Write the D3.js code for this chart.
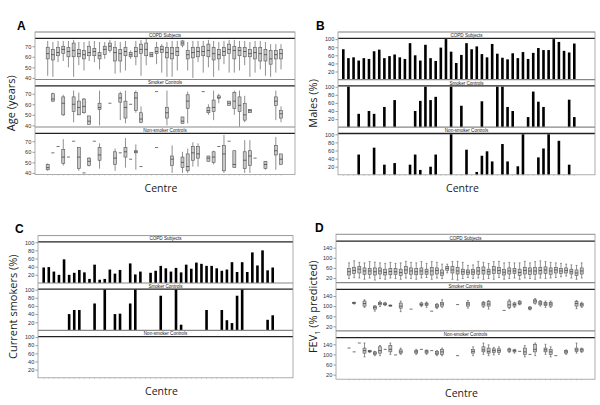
<!DOCTYPE html>
<html><head><meta charset="utf-8">
<script src="https://cdn.jsdelivr.net/npm/d3@7/dist/d3.min.js"></script>
<style>body{margin:0;background:#fff}svg{display:block}</style>
</head><body><svg id="c" width="600" height="405"></svg>
<script>
const centres = d3.range(1, 47);
const groupTitles = ["COPD Subjects", "Smoker Controls", "Non-smoker Controls"];

// A: Age (years) box plots [centre, lo, q1, median, q3, hi]
const ageCOPD = [
[1,42,58,63,69,75],[2,41,57,62,67,74],[3,55,61,64,69,75],[4,56,63,67,70,75],[5,50,60,65,69,75],
[6,41,60,66,73,76],[7,52,60,63,67,74],[8,47,58,62,66,74],[9,56,61,64,70,75],[10,55,61,65,68,75],
[11,48,58,61,64,74],[12,58,62,67,70,74],[13,64,66,70,73,76],[14,44,56,64,69,75],[15,45,56,63,67,74],
[16,47,61,65,69,75],[17,58,60,62,64,66],[18,52,60,65,69,75],[19,42,63,67,72,76],[20,52,61,67,73,77],
[21,60,60,62,64,64],[22,53,63,65,69,74],[23,45,64,67,70,72],[24,41,59,64,69,74],[25,41,58,63,69,75],
[26,47,61,65,69,75],[27,69,71,73,75,76],[28,47,58,62,66,74],[29,40,59,64,69,75],[30,55,60,65,69,75],
[31,45,61,65,70,75],[32,50,60,66,72,76],[33,41,57,63,69,75],[34,47,58,62,67,74],[35,53,61,65,69,75],
[36,45,63,67,72,76],[37,45,58,66,70,76],[38,47,61,66,69,75],[39,52,60,65,69,75],[40,41,60,63,67,74],
[41,45,58,64,69,75],[42,48,56,63,69,75],[43,42,56,62,67,74],[44,41,53,58,66,72],[45,45,58,62,66,72],
[46,48,58,63,67,72]];
const ageSmoker = [
[2,62,63,65,70,71],[4,49,50,61,67,69],[6,43,53,60,67,73],[7,50,50,57,63,71],[8,51,52,58,65,66],
[9,41,41,44,49,49],[11,40,55,57,61,73],[13,61,61,61,61,61],[15,45,62,66,70,72],[16,42,47,57,63,73],
[17,60,60,60,60,60],[18,52,54,66,71,73],[19,42,43,46,52,58],[22,72,72,72,72,72],[24,40,47,52,57,73],
[27,42,42,44,48,48],[28,42,56,63,69,72],[31,72,72,72,72,72],[32,50,52,54,57,60],[33,45,53,57,64,73],
[34,61,66,66,68,70],[36,59,59,61,63,63],[37,50,56,63,71,73],[38,39,53,59,67,73],[39,43,45,50,61,68],
[40,52,52,54,55,55],[45,45,59,63,67,73],[46,43,47,51,54,58]];
const ageNonSmoker = [
[1,42,43,45,48,49],[2,59,59,59,59,59],[3,65,65,65,65,65],[4,47,49,55,62,72],[5,55,55,55,55,55],
[6,70,70,70,70,70],[7,42,44,55,64,64],[8,40,40,40,40,40],[9,46,47,51,54,55],[10,70,70,70,70,70],
[11,44,52,57,64,68],[14,42,48,54,60,63],[15,59,59,59,59,59],[16,45,55,60,64,73],[17,53,53,53,53,53],
[18,43,59,60,61,67],[19,46,46,46,46,46],[22,64,64,64,64,64],[25,40,47,53,56,66],[27,40,45,50,55,60],
[28,40,42,46,58,63],[29,46,52,59,65,69],[30,46,54,58,65,68],[32,51,51,54,56,56],[33,48,50,55,60,61],
[34,65,65,65,65,65],[35,40,42,58,66,76],[36,70,70,70,70,70],[37,45,45,48,61,61],[39,40,44,52,60,71],
[40,40,47,56,61,71],[41,54,54,54,54,54],[43,43,44,48,51,51],[45,43,57,61,66,74],[46,48,48,53,58,58]];

// B: Males (%)
const malesCOPD = [75,53,55,47,53,51,70,74,53,58,62,55,51,90,60,47,86,53,46,79,100,69,41,61,90,75,82,63,55,88,64,54,50,65,53,68,51,66,78,73,73,100,93,71,67,89];
const malesSmoker = [[2,100],[4,33],[6,40],[7,33],[9,50],[11,67],[15,40],[16,65],[17,100],[18,67],[19,75],[22,100],[24,53],[28,64],[31,100],[32,100],[33,50],[34,40],[37,25],[38,88],[39,63],[40,50],[45,68],[46,25]];
const malesNonSmoker = [[4,50],[7,67],[9,25],[11,29],[14,25],[15,50],[16,12],[18,20],[19,50],[22,100],[25,62],[27,7],[28,47],[29,58],[30,33],[32,76],[33,33],[35,21],[36,100],[39,43],[40,65],[41,100],[43,84],[45,25]];

// C: Current smokers (%) (null = no data)
const smokCOPD = [38,39,28,20,58,20,25,32,26,10,45,8,10,33,23,32,null,48,21,28,null,25,30,42,36,28,37,26,45,35,50,47,42,42,36,30,33,51,27,51,27,75,43,80,31,38];
const smokSmoker = [[6,40],[7,50],[8,50],[11,66],[13,100],[15,40],[16,41],[18,66],[19,100],[24,85],[27,100],[28,14],[33,50],[36,50],[37,25],[38,18],[39,85],[40,100],[45,26],[46,37]];
const smokNonSmoker = [];

// D: FEV1 (% predicted) box plots
const fevCOPD = [
[1,18,32,45,58,80],[2,22,38,50,62,88],[3,20,40,55,65,82],[4,15,35,48,60,80],[5,20,35,48,58,85],
[6,12,32,45,60,83],[7,18,36,48,60,80],[8,15,32,42,55,78],[9,20,33,46,58,82],[10,18,35,45,57,78],
[11,15,30,42,55,80],[12,20,38,52,65,86],[13,18,35,48,60,82],[14,15,33,45,57,80],[15,20,35,48,60,85],
[16,22,35,45,55,78],[17,15,32,48,62,85],[18,20,36,50,60,82],[19,18,30,40,52,75],[20,40,50,58,66,75],
[21,15,40,52,65,85],[22,12,36,48,62,86],[23,18,35,45,55,82],[24,22,35,43,52,70],[25,18,34,44,53,72],
[26,20,35,48,62,86],[27,15,36,50,64,82],[28,18,34,45,55,78],[29,15,38,52,65,85],[30,22,38,50,62,86],
[31,15,32,43,54,80],[32,18,36,48,60,82],[33,20,38,48,58,80],[34,15,30,42,55,80],[35,20,36,50,62,86],
[36,18,34,48,60,80],[37,15,35,48,62,85],[38,20,36,50,62,88],[39,18,38,52,64,85],[40,20,35,48,60,82],
[41,22,40,52,62,80],[42,25,38,48,58,78],[43,28,40,50,60,75],[44,20,36,45,55,72],[45,15,30,40,52,70],
[46,20,36,48,60,80]];
const fevSmoker = [
[2,108,110,112,115,116],[4,95,100,110,120,125],[6,80,88,95,100,102],[7,98,105,110,115,120],[8,102,105,108,112,115],
[9,100,100,102,104,104],[11,78,92,100,112,120],[13,88,88,88,88,88],[15,98,102,106,112,115],[16,95,102,108,112,116],
[17,80,80,80,80,80],[18,90,95,100,106,110],[19,95,100,108,115,125],[22,106,106,106,106,106],[24,92,100,108,115,122],
[27,95,100,108,115,118],[28,88,100,108,118,122],[31,83,83,83,83,83],[32,90,95,105,120,125],[33,95,100,106,112,115],
[34,105,108,112,118,122],[36,85,88,92,96,98],[37,108,112,120,125,130],[38,100,105,112,118,122],[39,95,102,108,115,120],
[40,95,100,108,115,120],[45,90,100,110,118,122],[46,95,100,105,110,115]];
const fevNonSmoker = [
[1,125,125,125,125,125],[2,110,110,110,110,110],[3,145,145,145,145,145],[4,90,105,115,125,145],[5,108,110,112,115,116],
[6,95,100,105,110,112],[7,95,105,115,130,135],[8,120,120,120,120,120],[9,100,110,120,135,145],[10,98,98,98,98,98],
[11,100,105,110,118,125],[14,100,105,110,115,120],[15,120,120,120,120,120],[16,100,105,110,115,118],[17,115,115,115,115,115],
[18,95,100,105,112,115],[19,95,100,110,120,125],[22,95,95,95,95,95],[25,95,105,112,120,130],[27,100,110,118,130,145],
[28,95,105,112,125,138],[29,98,108,115,122,128],[30,100,108,115,122,130],[32,108,112,118,122,125],[33,105,110,115,118,120],
[34,112,112,112,112,112],[35,90,100,110,125,135],[36,100,100,100,100,100],[37,95,110,120,140,145],[39,100,110,118,125,140],
[40,90,100,110,120,130],[41,95,95,95,95,95],[43,100,105,110,115,118],[45,105,112,118,125,145],[46,108,112,118,122,125]];

const ageTicks = [40,50,60,70];
const pctTicks = [20,40,60,80,100];
const fevTicks = [20,60,100,140];

const svg = d3.select("#c");

function toPairs(arr){ return arr.map((v,i)=>[centres[i], v]).filter(d=>d[1]!==null); }

function panel(cfg){
  const g = svg.append("g");
  const x = d3.scalePoint().domain(centres).range(cfg.xr);
  cfg.subs.forEach((s, i) => {
    const y0 = cfg.top + i*cfg.subH;
    const py0 = y0 + cfg.headH, py1 = y0 + cfg.subH;
    const y = d3.scaleLinear().domain(cfg.yd).range([py1, py0]);
    g.append("text").attr("x", (cfg.left+cfg.right)/2).attr("y", py0 - 1.4)
      .attr("text-anchor","middle").attr("font-family","Liberation Sans, Arial, sans-serif")
      .attr("font-size", 4.6).attr("fill","#222").text(groupTitles[i]);
    g.append("line").attr("x1",cfg.left).attr("x2",cfg.right).attr("y1",y0).attr("y2",y0)
      .attr("stroke", i===0 ? "#999" : "#888").attr("stroke-width", i===0 ? 0.8 : 1.2);
    g.append("line").attr("x1",cfg.left).attr("x2",cfg.right).attr("y1",py0).attr("y2",py0)
      .attr("stroke", "#222").attr("stroke-width", 1.3);
    const ax = g.append("g").attr("transform", `translate(${cfg.left},0)`)
      .call(d3.axisLeft(y).tickValues(cfg.ticks).tickSize(2.5).tickPadding(1.2));
    ax.select(".domain").remove();
    ax.selectAll("line").attr("stroke","#555").attr("stroke-width",0.6);
    ax.selectAll("text").attr("font-size", 5.6).attr("fill","#333")
      .attr("font-family","Liberation Sans, Arial, sans-serif");
    const m = g.append("g");
    if (cfg.type === "bar") {
      const bw = 2.6;
      m.selectAll("rect").data(s).join("rect")
        .attr("x", d => x(d[0]) - bw/2).attr("width", bw)
        .attr("y", d => y(d[1])).attr("height", d => y(0) - y(d[1]))
        .attr("fill", "#000");
    } else {
      const bw = 3.0;
      const grp = m.selectAll("g").data(s).join("g");
      grp.append("line").attr("x1", d=>x(d[0])).attr("x2", d=>x(d[0]))
        .attr("y1", d=>y(d[1])).attr("y2", d=>y(d[5]))
        .attr("stroke","#444").attr("stroke-width",0.6);
      if (cfg.caps) {
        [1,5].forEach(k => grp.filter(d=>d[5]>d[1]).append("line")
          .attr("x1", d=>x(d[0]) - 1).attr("x2", d=>x(d[0]) + 1)
          .attr("y1", d=>y(d[k])).attr("y2", d=>y(d[k]))
          .attr("stroke","#444").attr("stroke-width",0.5));
      }
      grp.filter(d=>d[4]>d[2]).append("rect")
        .attr("x", d=>x(d[0]) - bw/2).attr("width", bw)
        .attr("y", d=>y(d[4])).attr("height", d=>y(d[2]) - y(d[4]))
        .attr("fill","#c8c8c8").attr("stroke","#555").attr("stroke-width",0.6);
      grp.append("line").attr("x1", d=>x(d[0]) - bw/2).attr("x2", d=>x(d[0]) + bw/2)
        .attr("y1", d=>y(d[3])).attr("y2", d=>y(d[3]))
        .attr("stroke","#333").attr("stroke-width",0.7);
    }
  });
  const bottom = cfg.top + 3*cfg.subH;
  g.append("g").selectAll("line").data(centres).join("line")
    .attr("x1", d=>x(d)).attr("x2", d=>x(d)).attr("y1", bottom).attr("y2", bottom+1.2)
    .attr("stroke","#aaa").attr("stroke-width",0.5);
  g.append("rect").attr("x",cfg.left).attr("y",cfg.top).attr("width",cfg.right-cfg.left)
    .attr("height", bottom-cfg.top).attr("fill","none").attr("stroke","#999").attr("stroke-width",0.8);
  svg.append("text").attr("x", cfg.lx).attr("y", cfg.ly).attr("font-family","Liberation Sans, Arial, sans-serif")
    .attr("font-weight","bold").attr("font-size", 12).text(cfg.letter);
  svg.append("text").attr("x", (cfg.left+cfg.right)/2 - 4).attr("y", bottom + 17.5)
    .attr("text-anchor","middle").attr("font-family","Open Sans, sans-serif")
    .attr("font-size", 10.5).attr("fill","#222").text("Centre");
  const yl = svg.append("text").attr("transform", `translate(${cfg.ylx},${(cfg.top+bottom)/2}) rotate(-90)`)
    .attr("text-anchor","middle").attr("font-family","Open Sans, sans-serif")
    .attr("font-size", 11).attr("fill","#222");
  cfg.ylab(yl);
}

panel({left:35,right:295,top:32,subH:47.5,headH:6.3,yd:[38.5,77.5],ticks:ageTicks,xr:[47.7,281],
  type:"box",subs:[ageCOPD,ageSmoker,ageNonSmoker],letter:"A",lx:17,ly:30,ylx:15,
  ylab:t=>t.text("Age (years)")});
panel({left:338,right:595,top:32,subH:47.6,headH:6.3,yd:[0,102],ticks:pctTicks,xr:[343.3,574.3],
  type:"bar",subs:[toPairs(malesCOPD),malesSmoker,malesNonSmoker],letter:"B",lx:316,ly:30,ylx:317,
  ylab:t=>t.text("Males (%)")});
panel({left:38,right:293,top:235.6,subH:47.4,headH:6.2,yd:[0,101],ticks:pctTicks,xr:[43.7,272.7],
  type:"bar",subs:[toPairs(smokCOPD),smokSmoker,smokNonSmoker],letter:"C",lx:15,ly:233,ylx:17,
  ylab:t=>t.text("Current smokers (%)")});
panel({left:336,right:595,top:234.3,subH:48.3,headH:6.8,yd:[2,166],ticks:fevTicks,xr:[349,581.7],
  type:"box",caps:true,subs:[fevCOPD,fevSmoker,fevNonSmoker],letter:"D",lx:315,ly:232,ylx:317,
  ylab:t=>{t.append("tspan").text("FEV");t.append("tspan").attr("font-size",7).attr("dy",2.5).text("1");
           t.append("tspan").attr("dy",-2.5).text(" (% predicted)");}});
</script></body></html>
